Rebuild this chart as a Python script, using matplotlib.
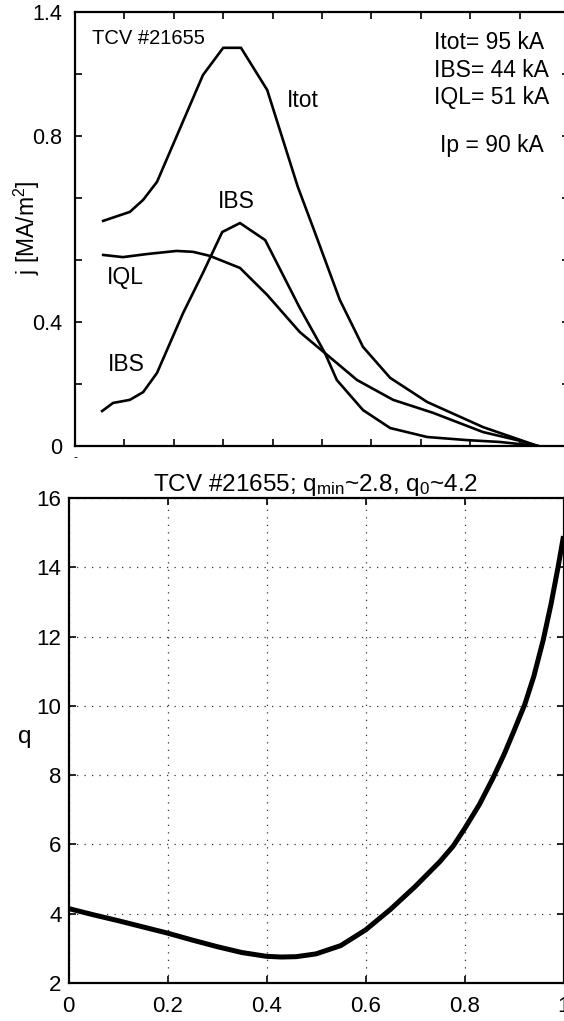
import numpy as np
import matplotlib
matplotlib.use("Agg")
import matplotlib.pyplot as plt

plt.rcParams['font.family'] = ['Liberation Sans', 'DejaVu Sans']
plt.rcParams['mathtext.fontset'] = 'custom'
plt.rcParams['mathtext.rm'] = 'Liberation Sans'
plt.rcParams['mathtext.it'] = 'Liberation Sans'
plt.rcParams['mathtext.default'] = 'regular'

# ---------------- data: top panel (current density profiles) ----------------
itot_x = [0.057, 0.111, 0.138, 0.166, 0.259, 0.300, 0.336, 0.389, 0.451, 0.486,
          0.536, 0.583, 0.638, 0.713, 0.826, 0.937]
itot_y = [0.727, 0.756, 0.795, 0.853, 1.198, 1.286, 1.286, 1.150, 0.837, 0.688,
          0.472, 0.320, 0.220, 0.142, 0.061, 0.0]

ibs_x = [0.055, 0.077, 0.111, 0.138, 0.166, 0.219, 0.259, 0.298, 0.334, 0.385,
         0.455, 0.506, 0.530, 0.583, 0.638, 0.713, 0.794, 0.860, 0.937]
ibs_y = [0.113, 0.139, 0.149, 0.174, 0.236, 0.430, 0.559, 0.691, 0.720, 0.665,
         0.446, 0.300, 0.213, 0.116, 0.058, 0.029, 0.019, 0.013, 0.0]

iql_x = [0.057, 0.097, 0.146, 0.206, 0.239, 0.273, 0.334, 0.389, 0.455, 0.506,
         0.571, 0.644, 0.725, 0.826, 0.895, 0.937]
iql_y = [0.617, 0.610, 0.620, 0.630, 0.627, 0.614, 0.575, 0.488, 0.368, 0.300,
         0.213, 0.149, 0.107, 0.045, 0.019, 0.0]

top_yticks = [0.0, 0.2, 0.4, 0.6, 0.8, 1.0, 1.2, 1.4]
top_yticklabels = ['0', '', '0.4', '', '', '0.8', '', '1.4']
top_xticks = [0.1, 0.2, 0.3, 0.4, 0.5, 0.6, 0.7, 0.8, 0.9]

summary_lines = ['Itot= 95 kA', 'IBS= 44 kA', 'IQL= 51 kA']
ip_text = 'Ip = 90 kA'
shot_text = 'TCV #21655'

# ---------------- data: bottom panel (safety factor) ----------------
q_x = [0.0, 0.05, 0.10, 0.15, 0.20, 0.25, 0.30, 0.35, 0.40, 0.43, 0.46, 0.50,
       0.55, 0.60, 0.65, 0.70, 0.75, 0.777, 0.80, 0.83, 0.857, 0.88, 0.90,
       0.922, 0.94, 0.959, 0.975, 0.989, 1.0]
q_y = [4.15, 3.97, 3.80, 3.62, 3.44, 3.24, 3.05, 2.88, 2.77, 2.75, 2.76, 2.84,
       3.08, 3.53, 4.12, 4.78, 5.50, 5.95, 6.45, 7.15, 7.90, 8.60, 9.28,
       10.05, 10.85, 11.90, 12.95, 14.0, 14.9]

bot_xticks = [0, 0.2, 0.4, 0.6, 0.8, 1.0]
bot_xticklabels = ['0', '0.2', '0.4', '0.6', '0.8', '1']
bot_yticks = [2, 4, 6, 8, 10, 12, 14, 16]

W, H = 564, 1021
fig = plt.figure(figsize=(W / 100, H / 100), dpi=100)

def frac(l, r, t, b):
    return [l / W, 1 - b / H, (r - l) / W, (b - t) / H]

# ---------------- top panel ----------------
ax1 = fig.add_axes(frac(75, 569, 12.5, 446))
lw = 1.9
for xs, ys in ((itot_x, itot_y), (ibs_x, ibs_y), (iql_x, iql_y)):
    ax1.plot(xs, ys, color='black', lw=lw, solid_joinstyle='round')
ax1.set_xlim(0, 1)
ax1.set_ylim(0, 1.4)
ax1.set_xticks(top_xticks)
ax1.set_xticklabels([])
ax1.set_yticks(top_yticks)
ax1.set_yticklabels(top_yticklabels)
ax1.tick_params(direction='in', top=True, right=True, length=5, width=1.2,
                labelsize=15.5, pad=9)
for s in ax1.spines.values():
    s.set_linewidth(1.6)
ax1.set_ylabel('j [MA/m$^2$]', fontsize=16.5, va='center')
ax1.yaxis.set_label_coords((27 - 75) / 494, 0.503)

tfs = 16.5
ax1.text(0.034, 0.939, shot_text, transform=ax1.transAxes, fontsize=14.5,
         va='center', ha='left')
ax1.text(0.429, 0.798, 'Itot', transform=ax1.transAxes, fontsize=tfs,
         va='center', ha='left')
ax1.text(0.289, 0.565, 'IBS', transform=ax1.transAxes, fontsize=tfs,
         va='center', ha='left')
ax1.text(0.065, 0.388, 'IQL', transform=ax1.transAxes, fontsize=tfs,
         va='center', ha='left')
ax1.text(0.067, 0.189, 'IBS', transform=ax1.transAxes, fontsize=tfs,
         va='center', ha='left')
for i, yy in enumerate([0.930, 0.867, 0.803]):
    ax1.text(0.727, yy, summary_lines[i], transform=ax1.transAxes,
             fontsize=tfs, va='center', ha='left')
ax1.text(0.739, 0.694, ip_text, transform=ax1.transAxes, fontsize=tfs,
         va='center', ha='left')
# small dash mark below the origin of the top panel (as in the scan)
fig.text(75 / W, 1 - 458 / H, '-', fontsize=9, ha='center', va='center')

# ---------------- bottom panel ----------------
ax2 = fig.add_axes(frac(68.5, 563.5, 498, 983))
ax2.plot(q_x, q_y, color='black', lw=3.6, solid_joinstyle='round',
         solid_capstyle='butt')
ax2.set_xlim(0, 1)
ax2.set_ylim(2, 16)
ax2.set_xticks(bot_xticks)
ax2.set_xticklabels(bot_xticklabels)
ax2.set_yticks(bot_yticks)
ax2.grid(True, color='#333333', linestyle=(0, (1, 5)), linewidth=0.9)
ax2.tick_params(direction='in', top=True, right=True, length=5, width=1.2,
                labelsize=16, pad=5)
ax2.tick_params(axis='x', pad=9)
for s in ax2.spines.values():
    s.set_linewidth(1.6)
ax2.set_ylabel('q', fontsize=17.5, rotation=0, va='center', ha='center')
ax2.yaxis.set_label_coords((25 - 68.5) / 495, 0.507)
ax2.set_title('TCV #21655; q$_{min}$~2.8, q$_0$~4.2', fontsize=17.5, pad=5)

fig.savefig('out.png', dpi=100)
